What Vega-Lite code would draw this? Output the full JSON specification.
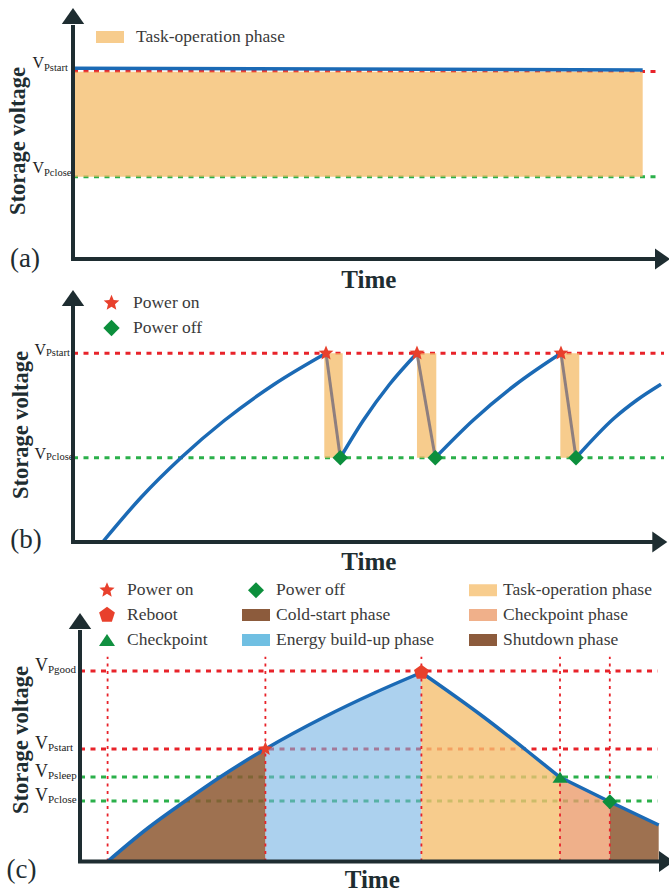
{
  "$schema": "https://vega.github.io/schema/vega-lite/v6.json",
  "background": "white",
  "padding": {"left": 6, "top": 8, "right": 0, "bottom": 0},
  "autosize": {"type": "pad"},
  "bounds": "flush",
  "spacing": 33,
  "config": {"view": {"stroke": null}, "font": "Liberation Serif"},
  "resolve": {"scale": {"color": "independent", "shape": "independent"}, "legend": {"color": "independent", "shape": "independent"}},
  "datasets": {
    "titles": [{"id": "ylab", "label": "Storage voltage"}, {"id": "time", "label": "Time"}, {"id": "a", "label": "(a)"}, {"id": "b", "label": "(b)"}, {"id": "c", "label": "(c)"}],
    "a_levels": [{"kind": "Pstart", "v": 75, "t": 0, "t2": 98}, {"kind": "Pclose", "v": 32.9, "t": 0, "t2": 98}],
    "a_phase": [{"phase": "Task-operation phase", "t": 0, "t2": 94.95, "v": 32.9, "v2": 74.9}],
    "a_curve": [{"t": 0, "v": 76.3}, {"t": 94.95, "v": 75.6}],
    "a_axes": [{"axis": "x", "t": -0.33, "t2": 97, "v": 0, "v2": 0}, {"axis": "y", "t": 0, "t2": 0, "v": 0, "v2": 93.6}],
    "a_arrows": [{"dir": "x", "t": 98.25, "v": 0}, {"dir": "y", "t": 0, "v": 97.2}],
    "b_levels": [{"kind": "Pstart", "v": 75.5, "t": 0, "t2": 98.5}, {"kind": "Pclose", "v": 33.7, "t": 0, "t2": 98.5}],
    "b_tasks": [{"t": 41.88, "t2": 44.95, "v": 33.7, "v2": 75.5}, {"t": 57.33, "t2": 60.55, "v": 33.7, "v2": 75.5}, {"t": 81.22, "t2": 84.38, "v": 33.7, "v2": 75.5}],
    "b_drops": [{"t": 42.17, "v": 75.5, "t2": 44.55, "v2": 33.7}, {"t": 57.33, "v": 75.5, "t2": 60.38, "v2": 33.7}, {"t": 81.33, "v": 75.5, "t2": 83.83, "v2": 33.7}],
    "b_curve": [
      {"seg": 1, "t": 4.95, "v": 0}, {"seg": 1, "t": 11.33, "v": 17.8}, {"seg": 1, "t": 18, "v": 33.7}, {"seg": 1, "t": 25.22, "v": 48.6}, {"seg": 1, "t": 33.55, "v": 63.1}, {"seg": 1, "t": 42.17, "v": 75.5},
      {"seg": 2, "t": 44.55, "v": 33.7}, {"seg": 2, "t": 48.37, "v": 48.6}, {"seg": 2, "t": 52.77, "v": 63.1}, {"seg": 2, "t": 57.33, "v": 75.5},
      {"seg": 3, "t": 60.38, "v": 33.7}, {"seg": 3, "t": 66.64, "v": 48.6}, {"seg": 3, "t": 73.86, "v": 63.1}, {"seg": 3, "t": 81.33, "v": 75.5},
      {"seg": 4, "t": 83.83, "v": 33.7}, {"seg": 4, "t": 90.22, "v": 49.6}, {"seg": 4, "t": 94, "v": 56.8}, {"seg": 4, "t": 98, "v": 63.1}
    ],
    "b_events": [
      {"event": "Power on", "t": 42.17, "v": 75.5}, {"event": "Power on", "t": 57.33, "v": 75.5}, {"event": "Power on", "t": 81.33, "v": 75.5},
      {"event": "Power off", "t": 44.55, "v": 33.7}, {"event": "Power off", "t": 60.38, "v": 33.7}, {"event": "Power off", "t": 83.83, "v": 33.7}
    ],
    "b_axes": [{"axis": "x", "t": -0.33, "t2": 96.7, "v": 0, "v2": 0}, {"axis": "y", "t": 0, "t2": 0, "v": 0, "v2": 94.4}],
    "b_arrows": [{"dir": "x", "t": 97.8, "v": 0}, {"dir": "y", "t": 0, "v": 97.6}],
    "c_levels": [{"kind": "Pgood", "v": 76.2, "t": 0, "t2": 96.3}, {"kind": "Pstart", "v": 45, "t": 0, "t2": 96.3}, {"kind": "Psleep", "v": 33.8, "t": 0, "t2": 96.3}, {"kind": "Pclose", "v": 24.2, "t": 0, "t2": 96.3}],
    "c_marks": [{"t": 4.6, "v": 0, "v2": 81.9}, {"t": 30.9, "v": 0, "v2": 81.9}, {"t": 56.9, "v": 0, "v2": 81.9}, {"t": 80, "v": 0, "v2": 81.9}, {"t": 88.3, "v": 0, "v2": 81.9}],
    "c_curve": [
      {"seg": "rise", "t": 4.6, "v": 0}, {"seg": "rise", "t": 11.28, "v": 13.3}, {"seg": "rise", "t": 17.38, "v": 23.9}, {"seg": "rise", "t": 23.5, "v": 34}, {"seg": "rise", "t": 30.9, "v": 45}, {"seg": "rise", "t": 40.72, "v": 57.8}, {"seg": "rise", "t": 49.05, "v": 67.4}, {"seg": "rise", "t": 56.9, "v": 75.6},
      {"seg": "fall1", "t": 56.9, "v": 75.6}, {"seg": "fall1", "t": 67.38, "v": 57.6}, {"seg": "fall1", "t": 74.33, "v": 44.6}, {"seg": "fall1", "t": 80, "v": 33.7},
      {"seg": "fall2", "t": 80, "v": 33.7}, {"seg": "fall2", "t": 88.3, "v": 23.9}, {"seg": "fall2", "t": 96.45, "v": 14.6}
    ],
    "c_phases": [
      {"label": "Cold-start phase", "t": 4.6, "v": 0}, {"label": "Cold-start phase", "t": 11.28, "v": 13.3}, {"label": "Cold-start phase", "t": 17.38, "v": 23.9}, {"label": "Cold-start phase", "t": 23.5, "v": 34}, {"label": "Cold-start phase", "t": 30.9, "v": 45},
      {"label": "Energy build-up phase", "t": 30.9, "v": 45}, {"label": "Energy build-up phase", "t": 40.72, "v": 57.8}, {"label": "Energy build-up phase", "t": 49.05, "v": 67.4}, {"label": "Energy build-up phase", "t": 56.9, "v": 75.6},
      {"label": "Task-operation phase", "t": 56.9, "v": 75.6}, {"label": "Task-operation phase", "t": 67.38, "v": 57.6}, {"label": "Task-operation phase", "t": 74.33, "v": 44.6}, {"label": "Task-operation phase", "t": 80, "v": 33.7},
      {"label": "Checkpoint phase", "t": 80, "v": 33.7}, {"label": "Checkpoint phase", "t": 88.3, "v": 23.9},
      {"label": "Shutdown phase", "t": 88.3, "v": 23.9}, {"label": "Shutdown phase", "t": 96.45, "v": 14.6}
    ],
    "c_events": [{"label": "Power on", "t": 30.9, "v": 45}, {"label": "Reboot", "t": 56.9, "v": 75.6}, {"label": "Checkpoint", "t": 80, "v": 33.7}, {"label": "Power off", "t": 88.3, "v": 23.9}],
    "c_axes": [{"axis": "x", "t": -0.33, "t2": 96.5, "v": 0, "v2": 0}, {"axis": "y", "t": 0, "t2": 0, "v": 0, "v2": 92.6}],
    "c_arrows": [{"dir": "x", "t": 97.75, "v": 0}, {"dir": "y", "t": 0, "v": 96.2}]
  },
  "vconcat": [
    {
      "width": 600, "height": 250,
      "layer": [
        {"data": {"name": "a_levels"}, "mark": {"type": "rule", "strokeWidth": 3, "strokeDash": [5, 5.5]},
         "encoding": {
           "x": {"field": "t", "type": "quantitative", "scale": {"domain": [0, 100], "nice": false, "zero": false}, "axis": null},
           "y": {"field": "v", "type": "quantitative", "scale": {"domain": [0, 100], "nice": false, "zero": false}, "axis": null},
           "x2": {"field": "t2"},
           "stroke": {"field": "kind", "type": "nominal", "scale": {"domain": ["Pgood", "Pstart", "Psleep", "Pclose"], "range": ["#e8232a", "#e8232a", "#2bb04a", "#2bb04a"]}, "legend": null}}},
        {"data": {"name": "a_phase"}, "mark": {"type": "rect", "fillOpacity": 0.8},
         "encoding": {
           "x": {"field": "t", "type": "quantitative", "axis": null}, "y": {"field": "v", "type": "quantitative", "axis": null},
           "x2": {"field": "t2"}, "y2": {"field": "v2"},
           "color": {"field": "phase", "type": "nominal", "scale": {"domain": ["Task-operation phase"], "range": ["#f5bf70"]},
             "legend": {"title": null, "orient": "none", "legendX": 27, "legendY": 18, "symbolType": "M-1.4,-0.6L1.4,-0.6L1.4,0.6L-1.4,0.6Z", "symbolSize": 400, "symbolOpacity": 0.8, "symbolStrokeWidth": 0, "labelFont": "Liberation Serif", "labelFontSize": 17.5, "labelColor": "#3a3a3a", "labelOffset": 16, "labelLimit": 400, "padding": 0}}}},
        {"data": {"name": "a_curve"}, "mark": {"type": "line", "color": "#1b6ab5", "strokeWidth": 3.5},
         "encoding": {"x": {"field": "t", "type": "quantitative", "axis": null}, "y": {"field": "v", "type": "quantitative", "axis": null}}},
        {"data": {"name": "a_axes"}, "mark": {"type": "rule", "color": "#1e2d31", "strokeWidth": 4},
         "encoding": {"x": {"field": "t", "type": "quantitative", "axis": null}, "y": {"field": "v", "type": "quantitative", "axis": null}, "x2": {"field": "t2"}, "y2": {"field": "v2"}}},
        {"data": {"name": "a_arrows"}, "transform": [{"filter": "datum.dir === 'x'"}], "mark": {"type": "point", "shape": "M1,0L-1,-1.4L-1,1.4Z", "size": 225, "filled": true, "color": "#1e2d31", "strokeWidth": 0, "opacity": 1},
         "encoding": {"x": {"field": "t", "type": "quantitative", "axis": null}, "y": {"field": "v", "type": "quantitative", "axis": null}}},
        {"data": {"name": "a_arrows"}, "transform": [{"filter": "datum.dir === 'y'"}], "mark": {"type": "point", "shape": "M0,-1L1.4,1L-1.4,1Z", "size": 256, "filled": true, "color": "#1e2d31", "strokeWidth": 0, "opacity": 1},
         "encoding": {"x": {"field": "t", "type": "quantitative", "axis": null}, "y": {"field": "v", "type": "quantitative", "axis": null}}},
        {"data": {"name": "a_levels"}, "mark": {"type": "text", "text": "V", "align": "right", "baseline": "alphabetic", "dx": -29, "dy": -3.5, "fontSize": 16, "color": "#222222"},
         "encoding": {"x": {"datum": 0, "type": "quantitative", "axis": null}, "y": {"field": "v", "type": "quantitative", "axis": null}}},
        {"data": {"name": "a_levels"}, "mark": {"type": "text", "align": "left", "baseline": "alphabetic", "dx": -29, "dy": -1, "fontSize": 10.5, "color": "#222222"},
         "encoding": {"x": {"datum": 0, "type": "quantitative", "axis": null}, "y": {"field": "v", "type": "quantitative", "axis": null}, "text": {"field": "kind"}}},
        {"data": {"name": "titles"}, "transform": [{"filter": "datum.id === 'ylab'"}], "mark": {"type": "text", "angle": 270, "align": "center", "baseline": "middle", "fontSize": 22.5, "fontWeight": "bold", "color": "#1e2d31"},
         "encoding": {"x": {"datum": -9.17, "type": "quantitative", "axis": null}, "y": {"datum": 47.2, "type": "quantitative", "axis": null}, "text": {"field": "label"}}},
        {"data": {"name": "titles"}, "transform": [{"filter": "datum.id === 'time'"}], "mark": {"type": "text", "align": "center", "baseline": "middle", "fontSize": 25, "fontWeight": "bold", "color": "#1e2d31"},
         "encoding": {"x": {"datum": 49.3, "type": "quantitative", "axis": null}, "y": {"datum": -8.4, "type": "quantitative", "axis": null}, "text": {"field": "label"}}},
        {"data": {"name": "titles"}, "transform": [{"filter": "datum.id === 'a'"}], "mark": {"type": "text", "align": "center", "baseline": "middle", "fontSize": 27, "color": "#1e2d31"},
         "encoding": {"x": {"datum": -8, "type": "quantitative", "axis": null}, "y": {"datum": 0.2, "type": "quantitative", "axis": null}, "text": {"field": "label"}}}
      ]
    },
    {
      "width": 600, "height": 250,
      "layer": [
        {"data": {"name": "b_levels"}, "mark": {"type": "rule", "strokeWidth": 3, "strokeDash": [5, 5.5]},
         "encoding": {
           "x": {"field": "t", "type": "quantitative", "scale": {"domain": [0, 100], "nice": false, "zero": false}, "axis": null},
           "y": {"field": "v", "type": "quantitative", "scale": {"domain": [0, 100], "nice": false, "zero": false}, "axis": null},
           "x2": {"field": "t2"},
           "stroke": {"field": "kind", "type": "nominal", "scale": {"domain": ["Pgood", "Pstart", "Psleep", "Pclose"], "range": ["#e8232a", "#e8232a", "#2bb04a", "#2bb04a"]}, "legend": null}}},
        {"data": {"name": "b_tasks"}, "mark": {"type": "rect", "fill": "#f5bf70", "fillOpacity": 0.8},
         "encoding": {"x": {"field": "t", "type": "quantitative", "axis": null}, "y": {"field": "v", "type": "quantitative", "axis": null}, "x2": {"field": "t2"}, "y2": {"field": "v2"}}},
        {"data": {"name": "b_drops"}, "mark": {"type": "rule", "color": "#8e7f7f", "strokeWidth": 3},
         "encoding": {"x": {"field": "t", "type": "quantitative", "axis": null}, "y": {"field": "v", "type": "quantitative", "axis": null}, "x2": {"field": "t2"}, "y2": {"field": "v2"}}},
        {"data": {"name": "b_curve"}, "mark": {"type": "line", "color": "#1b6ab5", "strokeWidth": 3.5, "interpolate": "monotone"},
         "encoding": {"x": {"field": "t", "type": "quantitative", "axis": null}, "y": {"field": "v", "type": "quantitative", "axis": null}, "detail": {"field": "seg", "type": "nominal"}}},
        {"data": {"name": "b_events"}, "mark": {"type": "point", "filled": true, "size": 380, "strokeWidth": 0, "opacity": 1},
         "encoding": {
           "x": {"field": "t", "type": "quantitative", "axis": null}, "y": {"field": "v", "type": "quantitative", "axis": null},
           "shape": {"field": "event", "type": "nominal", "scale": {"domain": ["Power on", "Power off"], "range": ["M0,-0.8L0.212,-0.291L0.761,-0.247L0.342,0.111L0.47,0.647L0,0.36L-0.47,0.647L-0.342,0.111L-0.761,-0.247L-0.212,-0.291Z", "M0,-0.8L0.8,0L0,0.8L-0.8,0Z"]},
             "legend": {"title": null, "orient": "none", "legendX": 28, "legendY": 0.5, "rowPadding": 6, "symbolSize": 420, "symbolStrokeWidth": 0, "labelFont": "Liberation Serif", "labelFontSize": 17.5, "labelColor": "#3a3a3a", "labelOffset": 11, "labelLimit": 400, "padding": 0}},
           "color": {"field": "event", "type": "nominal", "scale": {"domain": ["Power on", "Power off"], "range": ["#e8402c", "#0c8f3c"]},
             "legend": {"title": null, "orient": "none", "legendX": 28, "legendY": 0.5, "rowPadding": 6, "symbolSize": 420, "symbolStrokeWidth": 0, "labelFont": "Liberation Serif", "labelFontSize": 17.5, "labelColor": "#3a3a3a", "labelOffset": 11, "labelLimit": 400, "padding": 0}}
         }},
        {"data": {"name": "b_axes"}, "mark": {"type": "rule", "color": "#1e2d31", "strokeWidth": 4},
         "encoding": {"x": {"field": "t", "type": "quantitative", "axis": null}, "y": {"field": "v", "type": "quantitative", "axis": null}, "x2": {"field": "t2"}, "y2": {"field": "v2"}}},
        {"data": {"name": "b_arrows"}, "transform": [{"filter": "datum.dir === 'x'"}], "mark": {"type": "point", "shape": "M1,0L-1,-1.4L-1,1.4Z", "size": 225, "filled": true, "color": "#1e2d31", "strokeWidth": 0, "opacity": 1},
         "encoding": {"x": {"field": "t", "type": "quantitative", "axis": null}, "y": {"field": "v", "type": "quantitative", "axis": null}}},
        {"data": {"name": "b_arrows"}, "transform": [{"filter": "datum.dir === 'y'"}], "mark": {"type": "point", "shape": "M0,-1L1.4,1L-1.4,1Z", "size": 256, "filled": true, "color": "#1e2d31", "strokeWidth": 0, "opacity": 1},
         "encoding": {"x": {"field": "t", "type": "quantitative", "axis": null}, "y": {"field": "v", "type": "quantitative", "axis": null}}},
        {"data": {"name": "b_levels"}, "mark": {"type": "text", "text": "V", "align": "right", "baseline": "alphabetic", "dx": -27, "dy": 1.5, "fontSize": 16, "color": "#222222"},
         "encoding": {"x": {"datum": 0, "type": "quantitative", "axis": null}, "y": {"field": "v", "type": "quantitative", "axis": null}}},
        {"data": {"name": "b_levels"}, "mark": {"type": "text", "align": "left", "baseline": "alphabetic", "dx": -27, "dy": 2.5, "fontSize": 10.5, "color": "#222222"},
         "encoding": {"x": {"datum": 0, "type": "quantitative", "axis": null}, "y": {"field": "v", "type": "quantitative", "axis": null}, "text": {"field": "kind"}}},
        {"data": {"name": "titles"}, "transform": [{"filter": "datum.id === 'ylab'"}], "mark": {"type": "text", "angle": 270, "align": "center", "baseline": "middle", "fontSize": 22.5, "fontWeight": "bold", "color": "#1e2d31"},
         "encoding": {"x": {"datum": -8.67, "type": "quantitative", "axis": null}, "y": {"datum": 46.8, "type": "quantitative", "axis": null}, "text": {"field": "label"}}},
        {"data": {"name": "titles"}, "transform": [{"filter": "datum.id === 'time'"}], "mark": {"type": "text", "align": "center", "baseline": "middle", "fontSize": 25, "fontWeight": "bold", "color": "#1e2d31"},
         "encoding": {"x": {"datum": 49.3, "type": "quantitative", "axis": null}, "y": {"datum": -8, "type": "quantitative", "axis": null}, "text": {"field": "label"}}},
        {"data": {"name": "titles"}, "transform": [{"filter": "datum.id === 'b'"}], "mark": {"type": "text", "align": "center", "baseline": "middle", "fontSize": 27, "color": "#1e2d31"},
         "encoding": {"x": {"datum": -7.83, "type": "quantitative", "axis": null}, "y": {"datum": 0.8, "type": "quantitative", "axis": null}, "text": {"field": "label"}}}
      ]
    },
    {
      "width": 600, "height": 286.5,
      "layer": [
        {"data": {"name": "c_levels"}, "mark": {"type": "rule", "strokeWidth": 3, "strokeDash": [5, 5.5]},
         "encoding": {
           "x": {"field": "t", "type": "quantitative", "scale": {"domain": [-1.1667, 98.8333], "nice": false, "zero": false}, "axis": null},
           "y": {"field": "v", "type": "quantitative", "scale": {"domain": [0, 114.6], "nice": false, "zero": false}, "axis": null},
           "x2": {"field": "t2"},
           "stroke": {"field": "kind", "type": "nominal", "scale": {"domain": ["Pgood", "Pstart", "Psleep", "Pclose"], "range": ["#e8232a", "#e8232a", "#2bb04a", "#2bb04a"]}, "legend": null}}},
        {"data": {"name": "c_phases"}, "mark": {"type": "area", "interpolate": "monotone"},
         "encoding": {
           "x": {"field": "t", "type": "quantitative", "axis": null},
           "y": {"field": "v", "type": "quantitative", "stack": null, "axis": null},
           "fill": {"field": "label", "type": "nominal", "scale": {"domain": ["Cold-start phase", "Energy build-up phase", "Task-operation phase", "Checkpoint phase", "Shutdown phase"], "range": ["#8d5831", "#75b2e3", "#f5bf70", "#eb9c6d", "#8d5831"]}, "legend": null},
           "fillOpacity": {"field": "label", "type": "nominal", "scale": {"type": "ordinal", "domain": ["Cold-start phase", "Energy build-up phase", "Task-operation phase", "Checkpoint phase", "Shutdown phase"], "range": [0.85, 0.6, 0.8, 0.8, 0.85]}, "legend": null}
         }},
        {"data": {"name": "c_marks"}, "mark": {"type": "rule", "color": "#e8232a", "strokeWidth": 1.8, "strokeDash": [3, 4.5]},
         "encoding": {"x": {"field": "t", "type": "quantitative", "axis": null}, "y": {"field": "v", "type": "quantitative", "axis": null}, "y2": {"field": "v2"}}},
        {"data": {"name": "c_curve"}, "mark": {"type": "line", "color": "#1b6ab5", "strokeWidth": 3.5, "interpolate": "monotone"},
         "encoding": {"x": {"field": "t", "type": "quantitative", "axis": null}, "y": {"field": "v", "type": "quantitative", "axis": null}, "detail": {"field": "seg", "type": "nominal"}}},
        {"data": {"name": "c_events"}, "mark": {"type": "point", "filled": true, "size": 350, "strokeWidth": 0, "opacity": 1},
         "encoding": {
           "x": {"field": "t", "type": "quantitative", "axis": null}, "y": {"field": "v", "type": "quantitative", "axis": null},
           "shape": {"field": "label", "type": "nominal", "scale": {"domain": ["Power on", "Reboot", "Checkpoint", "Power off", "Cold-start phase", "Energy build-up phase", "Task-operation phase", "Checkpoint phase", "Shutdown phase"],
             "range": ["M0,-0.8L0.212,-0.291L0.761,-0.247L0.342,0.111L0.47,0.647L0,0.36L-0.47,0.647L-0.342,0.111L-0.761,-0.247L-0.212,-0.291Z", "M0,-0.83L0.789,-0.256L0.488,0.671L-0.488,0.671L-0.789,-0.256Z", "M0,-0.6L0.8,0.6L-0.8,0.6Z", "M0,-0.8L0.8,0L0,0.8L-0.8,0Z", "M-1.4,-0.6L1.4,-0.6L1.4,0.6L-1.4,0.6Z", "M-1.4,-0.6L1.4,-0.6L1.4,0.6L-1.4,0.6Z", "M-1.4,-0.6L1.4,-0.6L1.4,0.6L-1.4,0.6Z", "M-1.4,-0.6L1.4,-0.6L1.4,0.6L-1.4,0.6Z", "M-1.4,-0.6L1.4,-0.6L1.4,0.6L-1.4,0.6Z"]},
             "legend": {"title": null, "orient": "none", "legendX": 24, "legendY": 5, "columns": 3, "columnPadding": 34, "rowPadding": 6, "symbolSize": 400, "symbolStrokeWidth": 0, "labelFont": "Liberation Serif", "labelFontSize": 17.5, "labelColor": "#3a3a3a", "labelOffset": 10, "labelLimit": 400, "padding": 0}},
           "color": {"field": "label", "type": "nominal", "scale": {"domain": ["Power on", "Reboot", "Checkpoint", "Power off", "Cold-start phase", "Energy build-up phase", "Task-operation phase", "Checkpoint phase", "Shutdown phase"], "range": ["#e8402c", "#e8402c", "#119040", "#0c8f3c", "#8c5b3c", "#70bfe2", "#f8cd8e", "#f0b08a", "#8c5b3c"]},
             "legend": {"title": null, "orient": "none", "legendX": 24, "legendY": 5, "columns": 3, "columnPadding": 34, "rowPadding": 6, "symbolSize": 400, "symbolStrokeWidth": 0, "labelFont": "Liberation Serif", "labelFontSize": 17.5, "labelColor": "#3a3a3a", "labelOffset": 10, "labelLimit": 400, "padding": 0}}
         }},
        {"data": {"name": "c_axes"}, "mark": {"type": "rule", "color": "#1e2d31", "strokeWidth": 4},
         "encoding": {"x": {"field": "t", "type": "quantitative", "axis": null}, "y": {"field": "v", "type": "quantitative", "axis": null}, "x2": {"field": "t2"}, "y2": {"field": "v2"}}},
        {"data": {"name": "c_arrows"}, "transform": [{"filter": "datum.dir === 'x'"}], "mark": {"type": "point", "shape": "M1,0L-1,-1.4L-1,1.4Z", "size": 225, "filled": true, "color": "#1e2d31", "strokeWidth": 0, "opacity": 1},
         "encoding": {"x": {"field": "t", "type": "quantitative", "axis": null}, "y": {"field": "v", "type": "quantitative", "axis": null}}},
        {"data": {"name": "c_arrows"}, "transform": [{"filter": "datum.dir === 'y'"}], "mark": {"type": "point", "shape": "M0,-1L1.4,1L-1.4,1Z", "size": 256, "filled": true, "color": "#1e2d31", "strokeWidth": 0, "opacity": 1},
         "encoding": {"x": {"field": "t", "type": "quantitative", "axis": null}, "y": {"field": "v", "type": "quantitative", "axis": null}}},
        {"data": {"name": "c_levels"}, "mark": {"type": "text", "text": "V", "align": "right", "baseline": "alphabetic", "dx": -32, "dy": 0, "fontSize": 18, "color": "#222222"},
         "encoding": {"x": {"datum": 0, "type": "quantitative", "axis": null}, "y": {"field": "v", "type": "quantitative", "axis": null}}},
        {"data": {"name": "c_levels"}, "mark": {"type": "text", "align": "left", "baseline": "alphabetic", "dx": -32, "dy": 2, "fontSize": 11, "color": "#222222"},
         "encoding": {"x": {"datum": 0, "type": "quantitative", "axis": null}, "y": {"field": "v", "type": "quantitative", "axis": null}, "text": {"field": "kind"}}},
        {"data": {"name": "titles"}, "transform": [{"filter": "datum.id === 'ylab'"}], "mark": {"type": "text", "angle": 270, "align": "center", "baseline": "middle", "fontSize": 22.5, "fontWeight": "bold", "color": "#1e2d31"},
         "encoding": {"x": {"datum": -9.83, "type": "quantitative", "axis": null}, "y": {"datum": 48.6, "type": "quantitative", "axis": null}, "text": {"field": "label"}}},
        {"data": {"name": "titles"}, "transform": [{"filter": "datum.id === 'time'"}], "mark": {"type": "text", "align": "center", "baseline": "middle", "fontSize": 25, "fontWeight": "bold", "color": "#1e2d31"},
         "encoding": {"x": {"datum": 48.7, "type": "quantitative", "axis": null}, "y": {"datum": -7.4, "type": "quantitative", "axis": null}, "text": {"field": "label"}}},
        {"data": {"name": "titles"}, "transform": [{"filter": "datum.id === 'c'"}], "mark": {"type": "text", "align": "center", "baseline": "middle", "fontSize": 27, "color": "#1e2d31"},
         "encoding": {"x": {"datum": -9.75, "type": "quantitative", "axis": null}, "y": {"datum": -3.4, "type": "quantitative", "axis": null}, "text": {"field": "label"}}}
      ]
    }
  ]
}
